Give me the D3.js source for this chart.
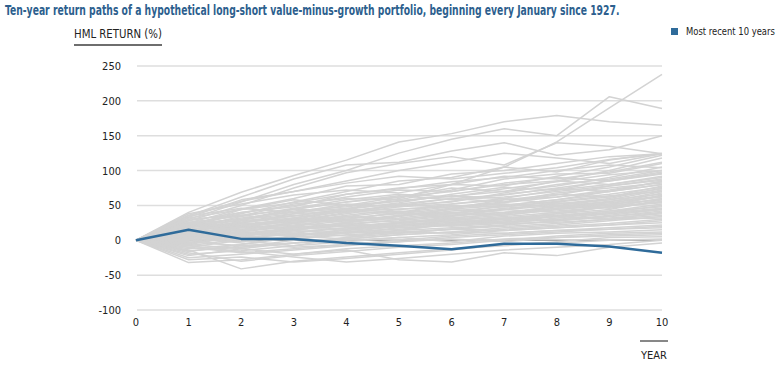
<!DOCTYPE html>
<html><head><meta charset="utf-8">
<script src="https://cdn.jsdelivr.net/npm/d3@7"></script>
<style>
body{margin:0;background:#fff;}
text{font-family:"Liberation Sans Narrow","Arial Narrow","DejaVu Sans Condensed",sans-serif;}
</style></head>
<body><svg id="c" width="780" height="369"></svg>
<script>
const years = [0,1,2,3,4,5,6,7,8,9,10];
const yTicks = [-100,-50,0,50,100,150,200,250];
const recent = [0,15,2,2,-4,-8,-13,-5,-5,-9,-18];
const historical = [
[0,40,69,93,115,141,153,170,179,170,165],
[0,30,55,80,100,125,145,160,150,206,189],
[0,15,25,35,45,60,80,105,141,190,238],
[0,35,62,88,108,112,128,140,122,130,150],
[0,28,50,75,97,110,120,108,140,135,124],
[0,33,58,70,85,100,112,125,118,110,124],
[0,25,45,60,78,80,95,100,110,120,124],
[0,20,38,55,70,85,90,105,98,115,125],
[0,22,40,48,66,75,80,78,92,105,122],
[0,18,30,45,55,62,70,80,85,100,118],
[0,26,35,52,60,58,72,88,95,96,110],
[0,12,25,38,50,57,63,70,78,90,105],
[0,15,22,30,42,50,55,68,80,88,100],
[0,20,32,40,46,52,60,65,75,85,96],
[0,8,18,28,38,48,52,60,72,80,92],
[0,10,15,25,30,40,48,55,65,78,88],
[0,22,28,35,45,40,52,58,62,70,85],
[0,5,12,20,28,35,45,50,58,70,80],
[0,14,20,18,25,34,42,48,55,62,78],
[0,-5,8,15,22,30,38,46,52,60,75],
[0,18,26,32,28,36,40,44,50,58,72],
[0,6,10,18,24,28,35,40,48,55,70],
[0,12,18,22,30,26,32,38,46,52,68],
[0,-8,2,10,18,24,30,36,44,50,65],
[0,24,30,38,42,45,48,52,48,56,63],
[0,9,14,20,16,22,28,34,40,48,60],
[0,3,6,12,18,20,26,32,38,44,58],
[0,16,22,26,32,38,36,40,42,48,55],
[0,-12,-6,4,10,18,22,28,35,42,52],
[0,7,12,8,14,20,24,30,34,40,50],
[0,11,16,24,20,26,30,32,36,42,48],
[0,-3,4,8,12,16,22,26,30,38,45],
[0,19,24,28,34,30,26,30,34,38,44],
[0,4,8,14,10,14,18,22,28,34,42],
[0,-15,-10,-4,4,10,16,22,28,34,40],
[0,13,10,16,22,18,22,26,30,32,38],
[0,2,-2,6,12,10,16,20,24,30,36],
[0,-6,-12,-4,2,8,12,18,22,28,34],
[0,17,20,16,20,24,20,24,26,30,32],
[0,0,5,2,8,12,10,16,20,24,30],
[0,-20,-15,-8,-2,4,8,14,18,22,28],
[0,9,4,10,6,12,16,14,18,22,25],
[0,-10,-18,-12,-6,0,6,10,14,18,22],
[0,5,10,6,2,8,12,10,14,16,20],
[0,-25,-20,-14,-8,-2,4,8,12,16,18],
[0,-2,-8,-4,0,4,-2,6,10,12,15],
[0,-18,-30,-22,-16,-10,-6,0,6,10,12],
[0,-32,-28,-20,-12,-8,-4,2,4,8,10],
[0,4,-4,-10,-6,-2,2,-2,4,6,8],
[0,-14,-41,-30,-24,-18,-12,-8,-2,4,5],
[0,-28,-24,-31,-26,-20,-14,-6,-4,0,2],
[0,-8,-16,-24,-31,-26,-20,-14,-10,-6,0],
[0,-22,-12,-20,-14,-28,-31,-18,-22,-10,-4],
[0,20,44,58,50,62,75,70,85,80,90],
[0,38,52,65,72,68,80,92,88,98,112],
[0,28,40,50,62,72,70,82,90,85,95],
[0,10,28,45,40,50,60,55,68,75,82],
[0,2,20,32,42,38,46,58,66,62,74],
[0,30,36,44,55,64,58,62,70,78,86],
[0,-4,14,26,36,44,50,48,56,64,70],
[0,6,24,20,34,42,38,50,58,66,76],
[0,26,18,30,26,35,44,40,46,54,62],
[0,14,30,42,48,56,64,60,52,58,66],
[0,-10,0,14,26,32,40,36,44,52,58],
[0,35,46,40,52,48,56,66,74,70,80],
[0,23,12,24,34,30,36,44,40,48,54],
[0,1,-10,0,12,20,28,24,32,40,46],
[0,12,26,36,30,40,32,38,50,46,56],
[0,32,44,54,66,74,84,90,100,108,104],
[0,18,34,46,58,66,62,74,84,94,100],
[0,-16,-6,6,16,26,22,30,38,48,60],
[0,8,0,-8,4,14,24,32,28,36,44],
[0,24,36,28,40,52,46,54,62,72,84],
[0,16,8,14,24,20,30,26,34,30,40],
[0,-6,6,18,14,24,34,44,54,50,64],
[0,36,56,70,82,92,88,96,104,116,124],
[0,10,20,32,44,54,66,76,72,86,98]
];

const svg = d3.select("#c");
const x = d3.scaleLinear().domain([0,10]).range([136,662]);
const y = d3.scaleLinear().domain([-100,250]).range([310,66]);

// place a text so that its rendered width equals target (horizontal scaling only)
function fitText(str, px, py, size, target, opts={}) {
  const t = svg.append("text").attr("x",0).attr("y",0)
    .attr("font-size",size).attr("fill",opts.fill||"#222")
    .attr("font-weight",opts.weight||"normal").text(str);
  const w = t.node().getComputedTextLength();
  const s = Math.min(1, target / w);
  t.attr("transform",`translate(${px},${py}) scale(${s},1)`);
  return t;
}

fitText("Ten-year return paths of a hypothetical long-short value-minus-growth portfolio, beginning every January since 1927.",
  5, 15, 13.5, 615, {weight:"bold", fill:"#2d5f8e"});

fitText("HML RETURN (%)", 74, 38, 11.5, 88);
svg.append("line").attr("x1",74).attr("x2",162).attr("y1",45).attr("y2",45)
  .attr("stroke","#6e6e6e").attr("stroke-width",2);

// legend
svg.append("rect").attr("x",671).attr("y",28).attr("width",7).attr("height",7).attr("fill","#2f6b9a");
fitText("Most recent 10 years", 686, 35, 10.5, 89);

// grid
const g = svg.append("g");
g.selectAll("line.grid").data(yTicks).join("line")
  .attr("x1",137).attr("x2",662).attr("y1",d=>y(d)).attr("y2",d=>y(d))
  .attr("stroke",d=>d===0?"#aaa":"#dedede").attr("stroke-width",1.5);

// y labels
g.selectAll("text.yl").data(yTicks).join("text")
  .attr("x",121).attr("y",d=>y(d)+4).attr("text-anchor","end")
  .attr("font-size",11).attr("fill","#222").text(d=>d);

// x labels
g.selectAll("text.xl").data(years).join("text")
  .attr("x",d=>x(d)).attr("y",326).attr("text-anchor","middle")
  .attr("font-size",11).attr("fill","#222").text(d=>d);

svg.append("line").attr("x1",640).attr("x2",668).attr("y1",341).attr("y2",341)
  .attr("stroke","#111").attr("stroke-width",1);
fitText("YEAR", 641, 359, 11, 27);

const line = d3.line().x((d,i)=>x(years[i])).y(d=>y(d));
svg.append("g").selectAll("path").data(historical).join("path")
  .attr("d",line).attr("fill","none").attr("stroke","#d3d3d3").attr("stroke-width",1.5)
  .attr("stroke-linejoin","round");
svg.append("path").datum(recent).attr("d",line).attr("fill","none")
  .attr("stroke","#2f6b9a").attr("stroke-width",2.5).attr("stroke-linejoin","round");
</script></body></html>
